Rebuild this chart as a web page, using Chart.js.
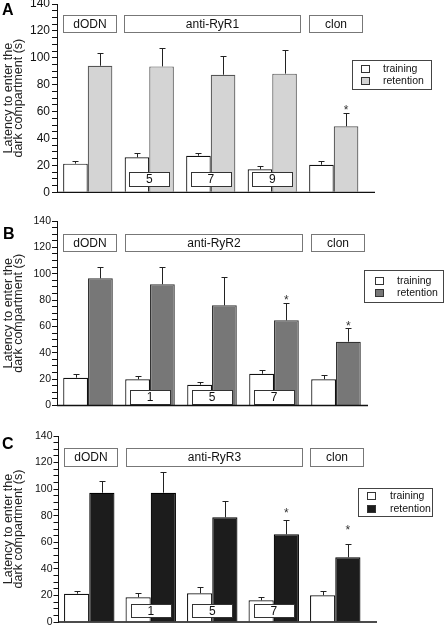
<!DOCTYPE html>
<html><head><meta charset="utf-8">
<script src="https://cdn.jsdelivr.net/npm/chart.js@4.4.0/dist/chart.umd.min.js"></script>
<style>
html,body{margin:0;padding:0;background:#fff;}
#wrap{position:relative;width:444px;height:629px;overflow:hidden;background:#fff;}
canvas{position:absolute;left:0;}
</style></head><body>
<div id="wrap">
<canvas id="cA" width="444" height="205" style="top:0px"></canvas>
<canvas id="cB" width="444" height="210" style="top:205px"></canvas>
<canvas id="cC" width="444" height="214" style="top:415px"></canvas>
</div>
<script>
// ---------- data ----------
const categories = ['dODN', 'anti-RyR dose 1', 'anti-RyR dose 2', 'anti-RyR dose 3', 'clon'];
const seriesNames = ['training', 'retention'];
const yMajorTicks = [0, 20, 40, 60, 80, 100, 120, 140];
const yTitle = ['Latency to enter the', 'dark compartment (s)'];
const groupSpans = [[0, 0], [1, 3], [4, 4]];

// Panel A (anti-RyR1)
const trainA = [21.3, 26.0, 27.2, 17.1, 20.5];
const trainSemA = [2.0, 3.4, 2.2, 2.2, 3.0];
const retA = [94.1, 93.6, 87.4, 88.2, 49.1];
const retSemA = [9.2, 13.5, 13.9, 17.4, 9.6];
const starsA = [null, null, null, null, 63.2];
const dosesA = ['', '5', '7', '9', ''];
const groupsA = ['dODN', 'anti-RyR1', 'clon'];

// Panel B (anti-RyR2)
const trainB = [21.1, 19.9, 15.8, 24.1, 19.9];
const trainSemB = [2.6, 2.3, 2.3, 3.1, 3.0];
const retB = [96.5, 92.0, 76.0, 64.6, 48.4];
const retSemB = [8.8, 12.9, 21.3, 12.9, 10.2];
const starsB = [null, null, null, 82.1, 62.8];
const dosesB = ['', '1', '5', '7', ''];
const groupsB = ['dODN', 'anti-RyR2', 'clon'];

// Panel C (anti-RyR3)
const trainC = [21.3, 18.6, 21.6, 16.3, 20.1];
const trainSemC = [2.3, 3.5, 4.5, 2.3, 3.0];
const retC = [97.3, 97.3, 78.8, 66.0, 48.7];
const retSemC = [8.6, 15.4, 12.3, 10.5, 9.8];
const starsC = [null, null, null, 84.3, 71.3];
const dosesC = ['', '1', '5', '7', ''];
const groupsC = ['dODN', 'anti-RyR3', 'clon'];

const FONT = "'Liberation Sans', Arial, Helvetica, sans-serif";

// ---------- decorations plugin ----------
const deco = {
  id: 'deco',
  afterDatasetsDraw(chart, args, o) {
    const ctx = chart.ctx, xs = chart.scales.x, ys = chart.scales.y, ca = chart.chartArea;
    ctx.save();
    // error bars (upper)
    o.sems.forEach((sem, di) => {
      const meta = chart.getDatasetMeta(di);
      meta.data.forEach((el, i) => {
        const v = chart.data.datasets[di].data[i];
        const yt = Math.round(ys.getPixelForValue(v + sem[i])) + 0.5;
        const cx = Math.round(el.x) + 0.5;
        ctx.strokeStyle = '#222'; ctx.lineWidth = 1;
        ctx.beginPath();
        ctx.moveTo(cx, el.y); ctx.lineTo(cx, yt);
        ctx.moveTo(cx - 3, yt); ctx.lineTo(cx + 3, yt);
        ctx.stroke();
      });
    });
    // stars
    ctx.fillStyle = '#333';
    ctx.font = '12px ' + FONT;
    ctx.textAlign = 'center'; ctx.textBaseline = 'alphabetic';
    const rmeta = chart.getDatasetMeta(1);
    o.stars.forEach((s, i) => {
      if (s == null) return;
      ctx.fillText('*', rmeta.data[i].x, ys.getPixelForValue(s) + 7);
    });
    // dose boxes
    ctx.font = '12px ' + FONT;
    ctx.textBaseline = 'middle';
    o.doses.forEach((d, i) => {
      if (!d) return;
      const cx = xs.getPixelForValue(i);
      const y1 = Math.round(ys.getPixelForValue(o.doseRange[1])) + 0.5;
      const y2 = Math.round(ys.getPixelForValue(o.doseRange[0])) + 0.5;
      const x1 = Math.round(cx - 20) + 0.5, x2 = Math.round(cx + 20) + 0.5;
      ctx.fillStyle = '#fff';
      ctx.fillRect(x1, y1, x2 - x1, y2 - y1);
      ctx.strokeStyle = '#333'; ctx.lineWidth = 1;
      ctx.strokeRect(x1, y1, x2 - x1, y2 - y1);
      ctx.fillStyle = '#111';
      ctx.fillText(d, cx, (y1 + y2) / 2 + 0.5);
    });
    // group boxes
    o.groups.forEach((g, gi) => {
      const [a, b] = groupSpans[gi];
      const x1 = Math.round(xs.getPixelForValue(a) - 25) + 0.5;
      const x2 = Math.round(xs.getPixelForValue(b) + 28) + 0.5;
      const y1 = Math.round(ys.getPixelForValue(o.groupRange[1])) + 0.5;
      const y2 = Math.round(ys.getPixelForValue(o.groupRange[0])) + 0.5;
      ctx.strokeStyle = '#777'; ctx.lineWidth = 1;
      ctx.strokeRect(x1, y1, x2 - x1, y2 - y1);
      ctx.fillStyle = '#111';
      ctx.fillText(g, (x1 + x2) / 2, (y1 + y2) / 2 + 0.5);
    });
    // baseline (x axis)
    ctx.strokeStyle = '#111'; ctx.lineWidth = 1.3;
    ctx.beginPath();
    ctx.moveTo(ca.left, ca.bottom); ctx.lineTo(o.axisEnd, ca.bottom);
    ctx.stroke();
    // legend
    const L = o.legend;
    ctx.strokeStyle = '#444'; ctx.lineWidth = 1;
    ctx.strokeRect(Math.round(L.x) + 0.5, Math.round(L.y) + 0.5, Math.round(L.w), Math.round(L.h));
    ctx.font = '10.5px ' + FONT; ctx.textAlign = 'left'; ctx.textBaseline = 'middle';
    chart.data.datasets.forEach((ds, i) => {
      const ry = L.y + L.rows[i];
      ctx.fillStyle = ds.backgroundColor;
      ctx.fillRect(Math.round(L.sx) + 0.5, Math.round(ry - 4) + 0.5, 8, 7);
      ctx.strokeStyle = '#333';
      ctx.strokeRect(Math.round(L.sx) + 0.5, Math.round(ry - 4) + 0.5, 8, 7);
      ctx.fillStyle = '#111';
      ctx.fillText(ds.label, L.tx, ry + 0.5);
    });
    // panel letter
    ctx.font = 'bold 16px ' + FONT;
    ctx.textAlign = 'left'; ctx.textBaseline = 'alphabetic';
    ctx.fillStyle = '#000';
    ctx.fillText(o.letter, o.letterX, o.letterY);
    ctx.restore();
  }
};

function makeChart(id, c) {
  return new Chart(document.getElementById(id), {
    type: 'bar',
    data: {
      labels: categories,
      datasets: [
        { label: seriesNames[0], data: c.train, backgroundColor: '#ffffff', borderColor: '#111', borderWidth: 1.2 },
        { label: seriesNames[1], data: c.ret, backgroundColor: c.retColor, borderColor: c.retBorder, borderWidth: 1.2 }
      ]
    },
    options: {
      responsive: false, animation: false, devicePixelRatio: 1,
      layout: { padding: c.padding },
      datasets: { bar: { categoryPercentage: c.catPct, barPercentage: 1 } },
      plugins: {
        legend: { display: false }, tooltip: { enabled: false },
        deco: {
          sems: [c.trainSem, c.retSem], stars: c.stars, doses: c.doses, groups: c.groups,
          doseRange: c.doseRange, groupRange: c.groupRange, axisEnd: c.axisEnd,
          legend: c.legend, letter: c.letter, letterX: c.letterX, letterY: c.letterY
        }
      },
      scales: {
        x: { display: false, offset: true },
        y: {
          min: 0, max: 140,
          ticks: {
            stepSize: 5, autoSkip: false, maxTicksLimit: 100,
            callback: v => yMajorTicks.includes(v) ? String(v) : '',
            font: { family: FONT, size: c.tickSize }, color: '#111', padding: c.tickPad
          },
          grid: { drawOnChartArea: false, drawTicks: true, tickLength: 5, color: '#111' },
          border: { display: true, color: '#111', width: 1 },
          title: {
            display: true, text: yTitle, color: '#222',
            font: { family: FONT, size: 12.5, lineHeight: 0.84 }, padding: { top: 3, bottom: 0 }
          },
          afterFit: s => { s.width = c.axisLeft; s.paddingTop = 0; s.paddingBottom = 0; }
        }
      }
    },
    plugins: [deco]
  });
}

makeChart('cA', {
  train: trainA, trainSem: trainSemA, ret: retA, retSem: retSemA, stars: starsA,
  doses: dosesA, groups: groupsA, retColor: '#d4d4d4', retBorder: '#555',
  padding: { top: 4, bottom: 12.7, left: 0, right: 79.5 }, axisLeft: 57, catPct: 0.8,
  tickSize: 12, tickPad: 2, axisEnd: 375,
  doseRange: [4.5, 15], groupRange: [119, 132],
  legend: { x: 352, y: 60, w: 79, h: 29, rows: [9, 21], sx: 361, tx: 383 },
  letter: 'A', letterX: 2, letterY: 15
});
makeChart('cB', {
  train: trainB, trainSem: trainSemB, ret: retB, retSem: retSemB, stars: starsB,
  doses: dosesB, groups: groupsB, retColor: '#777777', retBorder: '#333',
  padding: { top: 16, bottom: 9.5, left: 0, right: 77 }, axisLeft: 57, catPct: 0.8,
  tickSize: 10.5, tickPad: 1, axisEnd: 368,
  doseRange: [1.1, 11.8], groupRange: [117.5, 130],
  legend: { x: 364, y: 65, w: 79, h: 32, rows: [11, 23], sx: 375, tx: 397 },
  letter: 'B', letterX: 3, letterY: 33.5
});
makeChart('cC', {
  train: trainC, trainSem: trainSemC, ret: retC, retSem: retSemC, stars: starsC,
  doses: dosesC, groups: groupsC, retColor: '#1c1c1c', retBorder: '#000',
  padding: { top: 21, bottom: 7, left: 0, right: 78 }, axisLeft: 58.5, catPct: 0.82,
  tickSize: 10.5, tickPad: 1, axisEnd: 377,
  doseRange: [3.5, 13.5], groupRange: [117.6, 130.7],
  legend: { x: 358, y: 73, w: 74, h: 28, rows: [8, 20.5], sx: 367, tx: 390 },
  letter: 'C', letterX: 2, letterY: 33.5
});
</script>
</body></html>
